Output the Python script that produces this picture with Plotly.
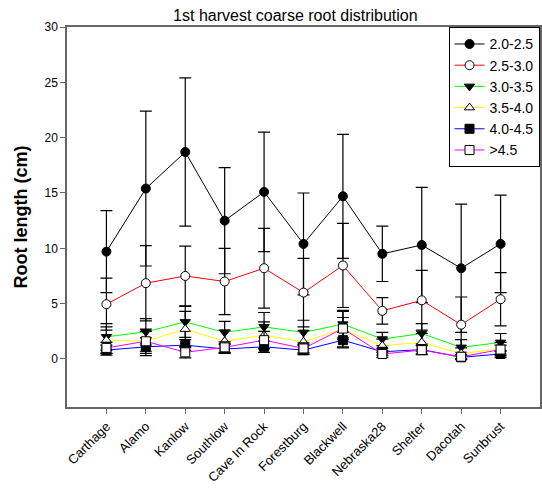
import plotly.graph_objects as go

categories = ["Carthage", "Alamo", "Kanlow", "Southlow", "Cave In Rock", "Forestburg",
              "Blackwell", "Nebraska28", "Shelter", "Dacotah", "Sunbrust"]

series_names = ["2.0-2.5", "2.5-3.0", "3.0-3.5", "3.5-4.0", "4.0-4.5", ">4.5"]

v_20_25 = [9.7, 15.4, 18.7, 12.5, 15.1, 10.4, 14.7, 9.5, 10.3, 8.2, 10.4]
e_20_25 = [3.7, 7.0, 6.7, 4.8, 5.4, 4.6, 5.6, 2.5, 5.2, 5.8, 4.4]

v_25_30 = [4.95, 6.85, 7.5, 7.0, 8.2, 6.0, 8.45, 4.35, 5.3, 3.1, 5.4]
e_25_30 = [2.35, 3.4, 2.7, 3.0, 3.6, 3.1, 3.8, 1.2, 2.7, 2.5, 2.4]

v_30_35 = [2.0, 2.45, 3.35, 2.4, 2.9, 2.4, 3.15, 1.8, 2.3, 1.05, 1.5]
e_30_35 = [1.2, 1.2, 1.4, 1.0, 1.3, 1.1, 1.25, 0.6, 0.9, 0.7, 0.8]

v_35_40 = [1.7, 1.6, 2.7, 1.6, 2.15, 1.55, 2.7, 1.2, 1.5, 0.5, 0.9]
e_35_40 = [1.2, 1.1, 1.6, 1.0, 1.2, 1.0, 1.6, 0.6, 0.8, 0.5, 0.6]

v_40_45 = [0.8, 1.1, 1.25, 0.9, 1.1, 0.8, 1.7, 0.65, 0.85, 0.15, 0.45]
e_40_45 = [0.45, 0.8, 0.5, 0.4, 0.5, 0.4, 0.7, 0.3, 0.4, 0.2, 0.3]

v_gt45 = [1.0, 1.6, 0.6, 1.05, 1.7, 0.95, 2.75, 0.45, 0.8, 0.2, 0.85]
e_gt45 = [0.5, 0.9, 0.5, 0.5, 0.8, 0.5, 1.0, 0.3, 0.4, 0.2, 0.4]

values = [v_20_25, v_25_30, v_30_35, v_35_40, v_40_45, v_gt45]
errors = [e_20_25, e_25_30, e_30_35, e_35_40, e_40_45, e_gt45]
line_colors = ["#000000", "#FF0000", "#00FF00", "#FFFF00", "#0000FF", "#FF00FF"]
symbols = ["circle", "circle", "triangle-down", "triangle-up", "square", "square"]
fills = ["#000000", "#FFFFFF", "#000000", "#FFFFFF", "#000000", "#FFFFFF"]

x_idx = list(range(len(categories)))

fig = go.Figure()
for name, vals, errs, lc, sym, fc in zip(series_names, values, errors, line_colors, symbols, fills):
    fig.add_trace(go.Scatter(
        x=x_idx, y=vals, name=name, mode="lines+markers",
        line=dict(color=lc, width=1),
        marker=dict(symbol=sym, size=9, color=fc, line=dict(color="#000000", width=1)),
        error_y=dict(type="data", array=errs, visible=True, color="#000000",
                     thickness=1.2, width=6),
    ))

font_family = "Arial, 'Liberation Sans', sans-serif"
fig.update_layout(
    width=542, height=493,
    margin=dict(l=67, r=2, t=27, b=86, autoexpand=False),
    paper_bgcolor="white", plot_bgcolor="white",
    font=dict(family=font_family, size=12, color="#000000"),
    title=dict(text="1st harvest coarse root distribution", x=0.545, xanchor="center",
               y=0.958, yanchor="bottom", font=dict(size=16, family=font_family)),
    showlegend=True,
    legend=dict(x=0.999, xanchor="right", y=0.999, yanchor="top", bordercolor="#000000",
                borderwidth=1, bgcolor="white", font=dict(size=14, family=font_family),
                tracegroupgap=0, entrywidth=62),
    xaxis=dict(range=[-1, 11], tickmode="array", tickvals=x_idx, ticktext=categories,
               tickangle=-45, ticks="outside", ticklen=5, tickcolor="#666",
               showline=True, linecolor="#666", linewidth=1.5, mirror=True,
               showgrid=False, zeroline=False, tickfont=dict(size=13), automargin=False),
    yaxis=dict(range=[-4.34, 30], tickmode="array", tickvals=[0, 5, 10, 15, 20, 25, 30],
               ticks="outside", ticklen=5, tickcolor="#666",
               showline=True, linecolor="#666", linewidth=1.5, mirror=True,
               showgrid=False, zeroline=False, tickfont=dict(size=12), automargin=False,
               title=dict(text="<b>Root length (cm)</b>", font=dict(size=18), standoff=12)),
)

fig.write_html("out.html", config={"displayModeBar": False},
               post_script="document.body.style.margin='0';document.body.style.overflow='hidden';")
